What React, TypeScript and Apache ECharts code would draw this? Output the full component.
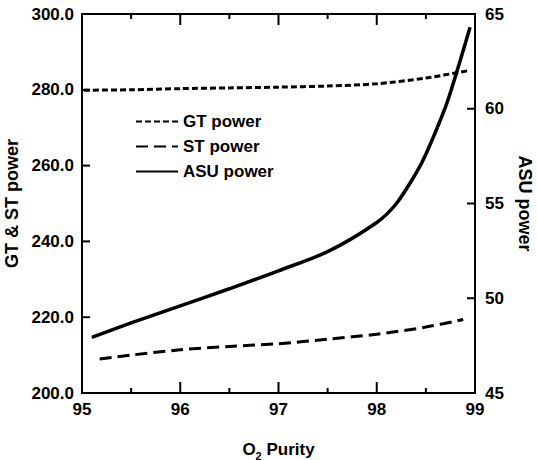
import React, { useEffect, useRef } from "react";
import * as echarts from "echarts";

const xTicks = [95, 96, 97, 98, 99];
const xMinorTicks = [95.5, 96.5, 97.5, 98.5];
const leftTicks = [200, 220, 240, 260, 280, 300];
const rightTicks = [45, 50, 55, 60, 65];
const gtPower: [number, number][] = [
  [95.02, 279.9], [95.5, 280.0], [96.0, 280.3], [96.5, 280.5], [97.0, 280.7],
  [97.5, 281.0], [98.0, 281.6], [98.5, 283.1], [98.92, 285.0],
];
const stPower: [number, number][] = [
  [95.18, 209.0], [95.5, 210.0], [96.0, 211.4], [96.5, 212.3], [97.0, 213.0],
  [97.5, 214.2], [98.0, 215.5], [98.5, 217.4], [98.88, 219.4],
];
const asuPower: [number, number][] = [
  [95.1, 47.94], [95.5, 48.7], [96.0, 49.6], [96.5, 50.5], [97.0, 51.45],
  [97.5, 52.46], [98.0, 54.0], [98.2, 55.0], [98.4, 56.6], [98.5, 57.6],
  [98.7, 60.1], [98.8, 61.7], [98.95, 64.3],
];

const FONT = "'Liberation Sans', Arial, sans-serif";
const LABEL = { color: "#000", fontFamily: FONT, fontWeight: "bold" as const, fontSize: 17 };
const NAME = { color: "#000", fontFamily: FONT, fontWeight: "bold" as const, fontSize: 18 };
const TICK_STYLE = { stroke: "#000", lineWidth: 2 };

export default function App() {
  const ref = useRef<HTMLDivElement>(null);
  useEffect(() => {
    document.body.style.margin = "0";
    const chart = echarts.init(ref.current!, null, { renderer: "svg" });
    const axisLine = () => ({ show: true, lineStyle: { color: "#000", width: 2 } });
    const yMin = leftTicks[0];
    const yMax = leftTicks[leftTicks.length - 1];
    const xMin = xTicks[0];
    const xMax = xTicks[xTicks.length - 1];
    const xTickValues = [...xTicks.slice(1, -1), ...xMinorTicks].sort((a, b) => a - b);

    chart.setOption({
      animation: false,
      grid: {
        left: 82, right: 62, top: 14, bottom: 67,
        containLabel: false,
        outerBoundsMode: "none",
        show: true,
        borderColor: "#000",
        borderWidth: 2,
        backgroundColor: "transparent",
      },
      legend: {
        orient: "vertical",
        left: 130,
        top: 108,
        itemWidth: 42,
        itemHeight: 16,
        itemGap: 8,
        itemStyle: { opacity: 0 },
        textStyle: { ...LABEL },
        data: ["GT power", "ST power", "ASU power"],
      },
      xAxis: {
        type: "value",
        min: xMin,
        max: xMax,
        interval: 1,
        position: "bottom",
        axisLine: axisLine(),
        axisTick: { show: false },
        splitLine: { show: false },
        name: "{o|O}{s|2}{p| Purity}",
        nameLocation: "middle",
        nameGap: 45,
        nameTextStyle: {
          rich: {
            o: { ...LABEL },
            s: { ...LABEL, fontSize: 11, padding: [12, 0, 0, 0] },
            p: { ...LABEL },
          },
        },
        axisLabel: { ...LABEL, margin: 8 },
      },
      yAxis: [
        {
          type: "value",
          min: yMin,
          max: yMax,
          interval: 20,
          position: "left",
          name: "GT & ST power",
          nameLocation: "middle",
          nameGap: 60,
          nameRotate: 90,
          nameTextStyle: { ...NAME },
          axisLine: axisLine(),
          axisTick: { show: false },
          splitLine: { show: false },
          axisLabel: { ...LABEL, margin: 8, formatter: (v: number) => v.toFixed(1) },
        },
        {
          type: "value",
          min: rightTicks[0],
          max: rightTicks[rightTicks.length - 1],
          interval: 5,
          position: "right",
          name: "ASU power",
          nameLocation: "middle",
          nameGap: 41,
          nameRotate: -90,
          nameTextStyle: { ...NAME },
          axisLine: axisLine(),
          axisTick: { show: false },
          splitLine: { show: false },
          axisLabel: { ...LABEL, margin: 10 },
        },
      ],
      series: [
        {
          name: "GT power",
          type: "line",
          data: gtPower,
          yAxisIndex: 0,
          smooth: 0.3,
          symbol: "none",
          lineStyle: { color: "#000", width: 3, type: [6, 3] },
          itemStyle: { color: "#000" },
        },
        {
          name: "ST power",
          type: "line",
          data: stPower,
          yAxisIndex: 0,
          smooth: 0.3,
          symbol: "none",
          lineStyle: { color: "#000", width: 3, type: [12, 6] },
          itemStyle: { color: "#000" },
        },
        {
          name: "ASU power",
          type: "line",
          data: asuPower,
          yAxisIndex: 1,
          smooth: 0.3,
          symbol: "none",
          lineStyle: { color: "#000", width: 3.5 },
          itemStyle: { color: "#000" },
        },
        // Inward tick marks on bottom and top edges
        {
          name: "xticks",
          type: "custom",
          yAxisIndex: 0,
          silent: true,
          clip: false,
          data: xTickValues.map((v) => [v, yMin]),
          renderItem: (params: any, api: any) => {
            const x = api.value(0);
            const len = Number.isInteger(x) ? 11 : 5;
            const b = api.coord([x, yMin]);
            const t = api.coord([x, yMax]);
            return {
              type: "group",
              children: [
                { type: "line", shape: { x1: b[0], y1: b[1], x2: b[0], y2: b[1] - len }, style: TICK_STYLE },
                { type: "line", shape: { x1: t[0], y1: t[1], x2: t[0], y2: t[1] + len }, style: TICK_STYLE },
              ],
            };
          },
        },
        // Inward tick marks on the left axis
        {
          name: "lticks",
          type: "custom",
          yAxisIndex: 0,
          silent: true,
          clip: false,
          data: leftTicks.slice(1, -1).map((v) => [xMin, v]),
          renderItem: (params: any, api: any) => {
            const p = api.coord([api.value(0), api.value(1)]);
            return { type: "line", shape: { x1: p[0], y1: p[1], x2: p[0] + 8, y2: p[1] }, style: TICK_STYLE };
          },
        },
        // Inward tick marks on the right axis
        {
          name: "rticks",
          type: "custom",
          yAxisIndex: 1,
          silent: true,
          clip: false,
          data: rightTicks.slice(1, -1).map((v) => [xMax, v]),
          renderItem: (params: any, api: any) => {
            const p = api.coord([api.value(0), api.value(1)]);
            return { type: "line", shape: { x1: p[0], y1: p[1], x2: p[0] - 8, y2: p[1] }, style: TICK_STYLE };
          },
        },
      ],
    });

    return () => chart.dispose();
  }, []);
  return <div ref={ref} style={{ width: 537, height: 460 }} />;
}
